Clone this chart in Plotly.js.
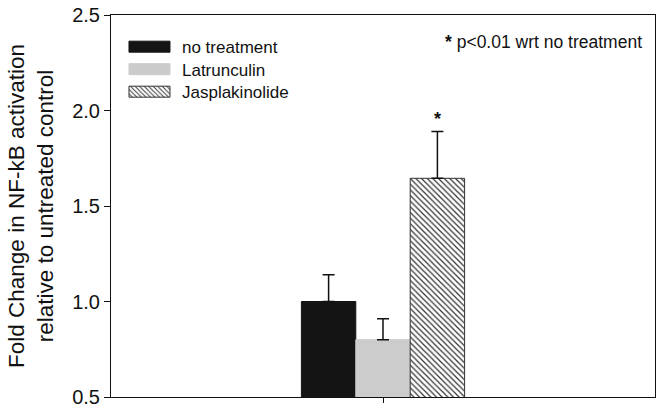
<!DOCTYPE html>
<html><head><meta charset="utf-8">
<script src="https://cdn.plot.ly/plotly-3.0.1.min.js"></script>
<style>html,body{margin:0;padding:0;background:#fff}</style>
</head><body>
<div id="chart" style="width:664px;height:413px"></div>
<script>
const groups = [0];
const seriesNames = ["no treatment", "Latrunculin", "Jasplakinolide"];
const noTreatment = [1.00];
const noTreatmentErr = [0.14];
const latrunculin = [0.80];
const latrunculinErr = [0.11];
const jasplakinolide = [1.645];
const jasplakinolideErr = [0.245];
const yTicks = [0.5, 1.0, 1.5, 2.0, 2.5];

const FONT = "Liberation Sans, Arial, Helvetica, sans-serif";
const errStyle = (arr) => ({type: "data", array: arr, arrayminus: arr.map(() => 0), symmetric: false,
  color: "#111", thickness: 1.5, width: 6});

const traces = [
  {type: "bar", name: seriesNames[0], x: groups, y: noTreatment, error_y: errStyle(noTreatmentErr),
   marker: {color: "#141414", line: {color: "#141414", width: 1}}},
  {type: "bar", name: seriesNames[1], x: groups, y: latrunculin, error_y: errStyle(latrunculinErr),
   marker: {color: "#cccccc", line: {color: "#cccccc", width: 1}}},
  {type: "bar", name: seriesNames[2], x: groups, y: jasplakinolide, error_y: errStyle(jasplakinolideErr),
   marker: {color: "#ffffff", line: {color: "#333", width: 1},
     pattern: {shape: "\\", fgcolor: "#333", bgcolor: "#ffffff", size: 4, solidity: 0.3}}}
];

const layout = {
  width: 664, height: 413,
  margin: {l: 111, r: 9, t: 15, b: 16},
  paper_bgcolor: "#fff", plot_bgcolor: "#fff",
  font: {family: FONT, color: "#111"},
  barmode: "group", bargap: 0.7, bargroupgap: 0,
  showlegend: true,
  legend: {x: 0.011, y: 0.963, xanchor: "left", yanchor: "top", font: {size: 17, family: FONT},
    itemwidth: 55, bgcolor: "rgba(0,0,0,0)", tracegroupgap: 0},
  xaxis: {range: [-0.5, 0.5], tickvals: groups, ticktext: [""], ticks: "outside", ticklen: 5,
    tickwidth: 1, tickcolor: "#111", showline: true, linecolor: "#111", linewidth: 1, mirror: true,
    showgrid: false, zeroline: false, fixedrange: true},
  yaxis: {range: [0.5, 2.5], tickvals: yTicks, tickformat: ".1f", ticks: "outside", ticklen: 6,
    tickwidth: 1, tickcolor: "#111", showline: true, linecolor: "#111", linewidth: 1, mirror: true,
    showgrid: false, zeroline: false, tickfont: {size: 20, family: FONT},
    title: {text: "Fold Change in NF-kB activation<br>relative to untreated control",
      font: {size: 22.5, family: FONT}, standoff: 12}},
  annotations: [
    {xref: "x", yref: "y", x: 0.1, y: jasplakinolide[0] + jasplakinolideErr[0], yanchor: "bottom",
     yshift: 1, text: "<b>*</b>", showarrow: false, font: {size: 18, family: FONT}},
    {xref: "paper", yref: "paper", x: 0.98, y: 0.93, xanchor: "right", yanchor: "middle",
     text: "<b>*</b> p&lt;0.01 wrt no treatment", showarrow: false, font: {size: 17.5, family: FONT}}
  ]
};

Plotly.newPlot("chart", traces, layout, {displayModeBar: false, staticPlot: true}).then(() => {
  document.querySelectorAll("#chart .legendpoints path").forEach(p => {
    p.setAttribute("d", "M20.5,5.5H-20.5V-5.5H20.5Z");
  });
  const items = document.querySelectorAll("#chart .legend .traces");
  if (items.length) {
    const m = /translate\(\s*([-\d.]+)[ ,]+([-\d.]+)/.exec(items[0].getAttribute("transform") || "");
    if (m) {
      const x0 = parseFloat(m[1]), y0 = parseFloat(m[2]);
      items.forEach((g, i) => g.setAttribute("transform", `translate(${x0},${y0 + i * 22.5})`));
    }
  }
});
</script>
</body></html>
